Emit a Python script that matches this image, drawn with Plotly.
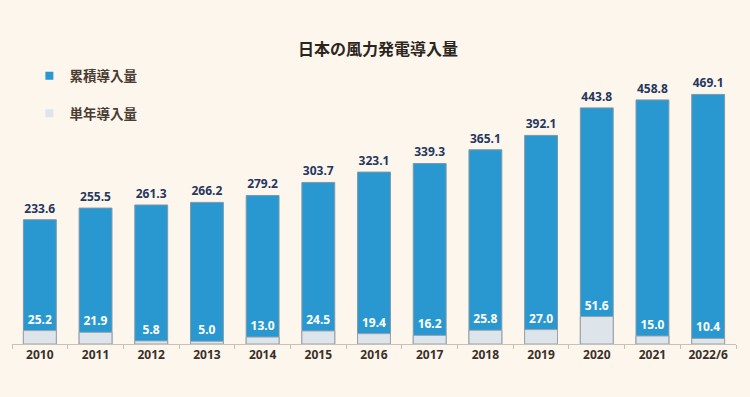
import plotly.graph_objects as go

categories = ["2010", "2011", "2012", "2013", "2014", "2015", "2016", "2017",
              "2018", "2019", "2020", "2021", "2022/6"]
cumulative = [233.6, 255.5, 261.3, 266.2, 279.2, 303.7, 323.1, 339.3,
              365.1, 392.1, 443.8, 458.8, 469.1]
annual = [25.2, 21.9, 5.8, 5.0, 13.0, 24.5, 19.4, 16.2, 25.8, 27.0, 51.6, 15.0, 10.4]

BG = "#FDF6EC"
BLUE = "#2A98D0"
LIGHT = "#DDE4EA"
FONT = "Noto Sans, Noto Sans CJK JP, sans-serif"

fig = go.Figure()
fig.add_trace(go.Bar(
    x=categories, y=cumulative, name="累積導入量", showlegend=False,
    marker=dict(color=BLUE, line=dict(color="#7f98a8", width=1)),
    width=0.59,
    text=[f"{v:.1f}" for v in cumulative], textposition="outside",
    textfont=dict(family=FONT, size=12, color="#25365F", weight="bold"),
    cliponaxis=False,
))
fig.add_trace(go.Bar(
    x=categories, y=annual, name="単年導入量", showlegend=False,
    marker=dict(color=LIGHT, line=dict(color="#9aa3aa", width=1)),
    width=0.59,
    text=[f"{v:.1f}" for v in annual], textposition="outside",
    textfont=dict(family=FONT, size=12, color="white", weight="bold"),
    cliponaxis=False,
))
# legend entries
fig.add_trace(go.Scatter(x=[None], y=[None], mode="markers", name="累積導入量",
                         legendgroup="a",
                         marker=dict(symbol="square", size=8, color=BLUE)))
fig.add_trace(go.Scatter(x=[None], y=[None], mode="markers", name="単年導入量",
                         legendgroup="b",
                         marker=dict(symbol="square", size=8, color=LIGHT)))

fig.update_layout(
    width=750, height=397,
    paper_bgcolor=BG, plot_bgcolor=BG,
    margin=dict(l=12, r=14, t=20, b=53),
    barmode="overlay",
    font=dict(family=FONT, color="#3b3029"),
    title=dict(text="日本の風力発電導入量", x=0.504, xanchor="center",
               y=1 - 49 / 397, yanchor="middle",
               font=dict(family=FONT, size=16, color="#2b2520", weight="bold")),
    legend=dict(x=0.024, xanchor="left", y=0.875, yanchor="top",
                bgcolor="rgba(0,0,0,0)", tracegroupgap=17,
                font=dict(family=FONT, size=13.5, color="#4a3b33", weight="bold"),
                itemsizing="trace"),
    showlegend=True,
    xaxis=dict(type="category", showline=True, linecolor="#c9c1b8", linewidth=1,
               ticks="outside", tickson="boundaries", ticklen=4, tickcolor="#c9c1b8",
               tickfont=dict(family=FONT, size=12, color="#3b3029", weight="bold"),
               showgrid=False, zeroline=False, fixedrange=True),
    yaxis=dict(range=[0, 609], visible=False, showgrid=False, zeroline=False,
               fixedrange=True),
)

fig.write_html(
    "out.html",
    config={"displayModeBar": False},
    post_script="document.body.style.margin='0';document.body.style.background='" + BG + "';",
)
